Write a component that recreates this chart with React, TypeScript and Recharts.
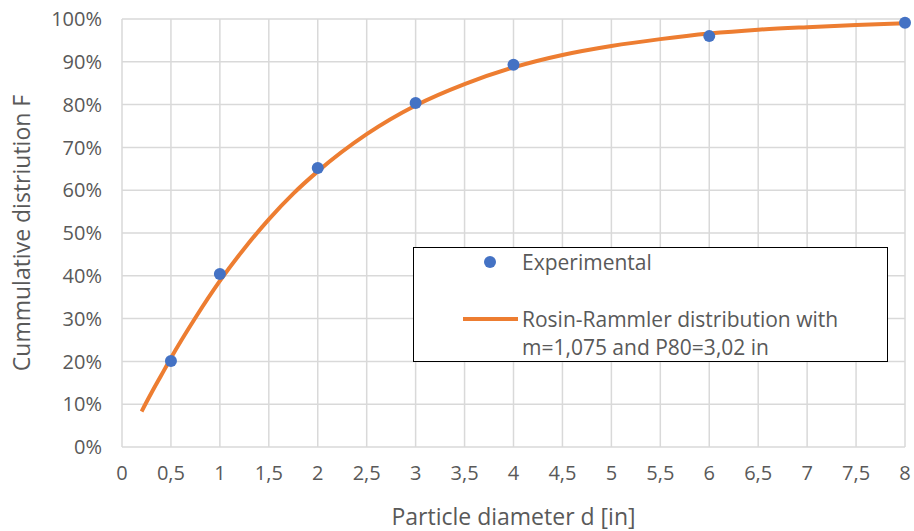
import React from 'react';
import {
  CartesianGrid,
  ComposedChart,
  Label,
  Legend,
  Line,
  Scatter,
  XAxis,
  YAxis,
} from 'recharts';

// experimental sieve points (d in inches, F as fraction)
const expDiameter = [0.5, 1, 2, 3, 4, 6, 8];
const expCumulative = [0.201, 0.404, 0.652, 0.804, 0.893, 0.96, 0.991];

// fitted Rosin-Rammler curve
const fitDiameter = [
  0.2, 0.3, 0.4, 0.5, 0.75, 1, 1.25, 1.5, 1.75, 2, 2.5, 3, 3.5, 4, 4.5, 5, 5.5, 6, 6.5, 7, 7.5, 8,
];
const fitCumulative = [
  0.083, 0.126, 0.167, 0.208, 0.302, 0.388, 0.464, 0.532, 0.592, 0.644, 0.731, 0.798, 0.848,
  0.887, 0.916, 0.937, 0.953, 0.966, 0.975, 0.981, 0.986, 0.99,
];

const xTicks = [0, 0.5, 1, 1.5, 2, 2.5, 3, 3.5, 4, 4.5, 5, 5.5, 6, 6.5, 7, 7.5, 8];
const yTicks = [0, 0.1, 0.2, 0.3, 0.4, 0.5, 0.6, 0.7, 0.8, 0.9, 1];

const expData = expDiameter.map((d, i) => ({ d, f: expCumulative[i] }));
const fitData = fitDiameter.map((d, i) => ({ d, f: fitCumulative[i] }));

const FONT = '"Open Sans", sans-serif';
const TEXT = '#595959';
const BLUE = '#4472C4';
const ORANGE = '#ED7D31';

function LegendBox() {
  return (
    <div
      style={{
        width: 473,
        height: 113,
        border: '1px solid #000',
        background: '#fff',
        position: 'relative',
        fontFamily: FONT,
        fontSize: 21,
        color: TEXT,
        lineHeight: '28px',
        whiteSpace: 'nowrap',
      }}
    >
      <svg width={473} height={113} style={{ position: 'absolute', left: 0, top: 0 }}>
        <circle cx={76} cy={14} r={6} fill={BLUE} />
        <line x1={49} x2={104} y1={71} y2={71} stroke={ORANGE} strokeWidth={4} />
      </svg>
      <div style={{ position: 'absolute', left: 108, top: 0 }}>Experimental</div>
      <div style={{ position: 'absolute', left: 108, top: 57 }}>
        Rosin-Rammler distribution with
        <br />
        m=1,075 and P80=3,02 in
      </div>
    </div>
  );
}

export default function App() {
  return (
    <div style={{ width: 914, height: 531, background: '#fff' }}>
      <style>{'body{margin:0}'}</style>
      <ComposedChart width={914} height={531} margin={{ top: 19, right: 9, bottom: 0, left: 0 }}>
        <CartesianGrid stroke="#d9d9d9" strokeWidth={1.5} />
        <XAxis
          type="number"
          dataKey="d"
          domain={[0, 8]}
          ticks={xTicks}
          interval={0}
          axisLine={false}
          tickLine={false}
          tickMargin={13}
          height={84}
          tick={{ fill: TEXT, fontSize: 20, fontFamily: FONT }}
          tickFormatter={(v: number) => String(v).replace('.', ',')}
        >
          <Label
            value="Particle diameter d [in]"
            position="insideBottom"
            offset={6}
            style={{ fill: TEXT, fontSize: 23, fontFamily: FONT }}
          />
        </XAxis>
        <YAxis
          type="number"
          dataKey="f"
          domain={[0, 1]}
          ticks={yTicks}
          interval={0}
          axisLine={false}
          tickLine={false}
          tickMargin={14}
          width={122}
          tick={{ fill: TEXT, fontSize: 20, fontFamily: FONT }}
          tickFormatter={(v: number) => `${Math.round(v * 100)}%`}
        >
          <Label
            value="Cummulative distriution F"
            angle={-90}
            position="insideLeft"
            offset={22}
            style={{ fill: TEXT, fontSize: 23, fontFamily: FONT, textAnchor: 'middle' }}
          />
        </YAxis>
        <Scatter
          data={expData}
          dataKey="f"
          fill={BLUE}
          shape={(p: any) => <circle cx={p.cx} cy={p.cy} r={6} fill={BLUE} />}
          isAnimationActive={false}
        />
        <Line
          data={fitData}
          dataKey="f"
          type="monotone"
          stroke={ORANGE}
          strokeWidth={4}
          dot={false}
          activeDot={false}
          isAnimationActive={false}
        />
        <Legend
          layout="vertical"
          align="center"
          verticalAlign="middle"
          content={() => <LegendBox />}
          wrapperStyle={{ left: 413, top: 247, width: 475, height: 115 }}
        />
      </ComposedChart>
    </div>
  );
}
